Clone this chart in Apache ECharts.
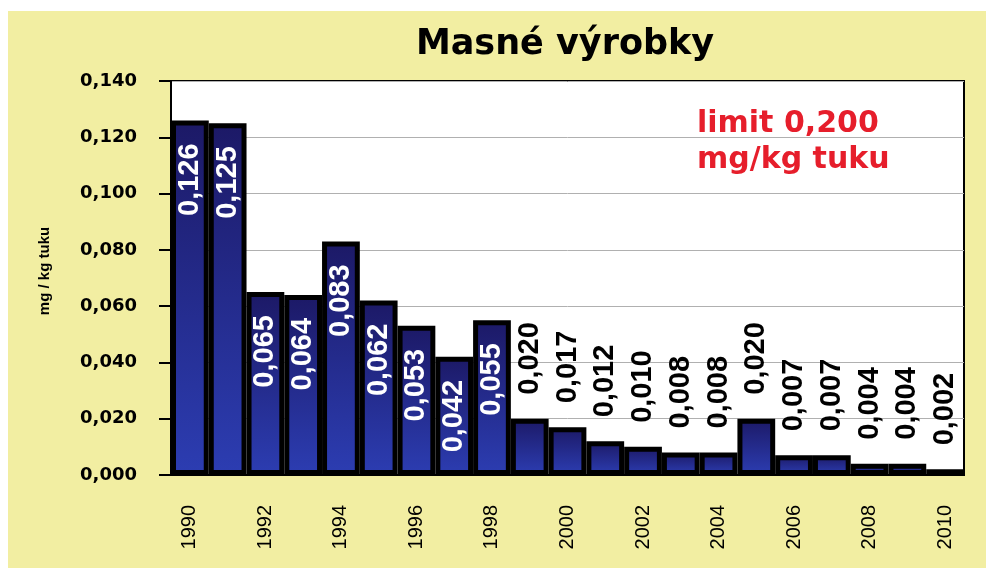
<!DOCTYPE html>
<html>
<head>
<meta charset="utf-8">
<script src="https://cdn.jsdelivr.net/npm/echarts@6/dist/echarts.min.js"></script>
<style>
html,body{margin:0;padding:0;background:#fff;}
#c{width:986px;height:568px;}
</style>
</head>
<body>
<div id="c"></div>
<script>
const titleText = 'Masné výrobky';
const yAxisName = 'mg / kg tuku';
const noteText = 'limit 0,200\nmg/kg tuku';
const years = ['1990','1991','1992','1993','1994','1995','1996','1997','1998','1999','2000','2001','2002','2003','2004','2005','2006','2007','2008','2009','2010'];
const values = [0.126,0.125,0.065,0.064,0.083,0.062,0.053,0.042,0.055,0.020,0.017,0.012,0.010,0.008,0.008,0.020,0.007,0.007,0.004,0.004,0.002];
const insideCount = 9; // first bars carry their label inside, in white

const fmt = v => v.toFixed(3).replace('.', ',');
const sans = '"Liberation Sans", Arial, sans-serif';

const chart = echarts.init(document.getElementById('c'), null, {renderer: 'canvas'});
const barData = values.map((v, i) => {
  const inside = i < insideCount;
  return {
    value: v,
    label: inside ? {
      position: 'insideTop', rotate: 90, align: 'right', verticalAlign: 'middle',
      distance: 23, color: '#fff'
    } : {
      position: 'top', rotate: 90, align: 'left', verticalAlign: 'middle',
      distance: 24, color: '#000'
    }
  };
});

chart.setOption({
  animation: false,
  backgroundColor: 'transparent',
  graphic: [
    {type: 'rect', left: 8, top: 11, z: -10, silent: true,
     shape: {width: 978, height: 557}, style: {fill: '#f2eea2'}},
    {type: 'text', left: 697, top: 106, z: 10,
     style: {text: noteText, fill: '#e61e2b', font: 'bold 30px "DejaVu Sans", sans-serif', lineHeight: 36}}
  ],
  title: {
    text: titleText, left: 560, top: 22, textAlign: 'center',
    textStyle: {fontFamily: '"DejaVu Sans", sans-serif', fontWeight: 'bold', fontSize: 35, color: '#000'}
  },
  grid: {
    left: 171, right: 22, top: 81, bottom: 93,
    show: true, backgroundColor: '#fff', borderColor: '#000', borderWidth: 2
  },
  xAxis: {
    type: 'category', data: years, boundaryGap: true,
    axisLine: {lineStyle: {color: '#000', width: 2}},
    axisTick: {interval: 0, length: 7, lineStyle: {color: '#000', width: 2}},
    axisLabel: {interval: 1, rotate: 90, margin: 30, color: '#000',
      fontFamily: sans, fontSize: 20}
  },
  yAxis: {
    type: 'value', min: 0, max: 0.14, interval: 0.02,
    name: yAxisName, nameLocation: 'middle', nameRotate: 90, nameGap: 119,
    nameTextStyle: {fontFamily: sans, fontWeight: 'bold', fontSize: 15, color: '#000', padding: [0, 0, 0, 14]},
    axisLine: {show: true, lineStyle: {color: '#000', width: 2}},
    axisTick: {show: true, length: 12, lineStyle: {color: '#000', width: 2}},
    axisLabel: {margin: 34, color: '#000', formatter: fmt,
      fontFamily: '"DejaVu Sans", sans-serif', fontWeight: 'bold', fontSize: 18},
    splitLine: {lineStyle: {color: '#b0b0b0', width: 1}}
  },
  series: [{
    type: 'bar', data: barData, barCategoryGap: '0%',
    itemStyle: {
      borderColor: '#000', borderWidth: 5,
      color: new echarts.graphic.LinearGradient(0, 0, 0, 1, [
        {offset: 0, color: '#1c1966'}, {offset: 1, color: '#2c3db2'}
      ])
    },
    label: {
      show: true, formatter: p => fmt(p.value),
      fontFamily: sans, fontWeight: 'bold', fontSize: 29
    }
  }]
});
</script>
</body>
</html>
